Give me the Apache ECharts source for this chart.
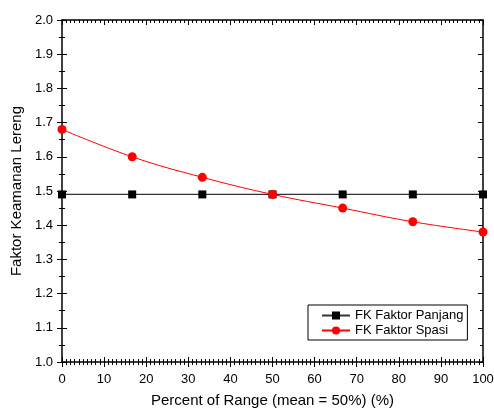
<!DOCTYPE html>
<html>
<head>
<meta charset="utf-8">
<script src="https://cdn.jsdelivr.net/npm/echarts@6/dist/echarts.min.js"></script>
<style>
  html, body { margin: 0; padding: 0; background: #fff; }
  #chart { width: 494px; height: 410px; }
</style>
</head>
<body>
<div id="chart"></div>
<script>
const xValues = [0, 16.67, 33.33, 50, 66.67, 83.33, 100]
const panjang = [1.49, 1.49, 1.49, 1.49, 1.49, 1.49, 1.49]
const spasi = [1.68, 1.60, 1.54, 1.49, 1.45, 1.41, 1.38]

const FONT = '"Liberation Sans", Arial, sans-serif'

const chart = echarts.init(document.getElementById('chart'), null, { renderer: 'canvas' })

function xAxisDef(pos, inside, showLabel, showLine) {
  return {
    type: 'value', position: pos, min: 0, max: 100, interval: 10,
    axisLine: { show: showLine, onZero: false, lineStyle: { color: '#000', width: 1.5 } },
    axisTick: { show: true, inside: inside, length: 5, lineStyle: { color: '#000', width: 1 } },
    minorTick: { show: true, splitNumber: 10, length: 3, lineStyle: { color: '#000', width: 1 } },
    axisLabel: { show: showLabel, color: '#000', fontFamily: FONT, fontSize: 13, margin: 11 },
    splitLine: { show: false },
    name: showLabel ? 'Percent of Range (mean = 50%) (%)' : '',
    nameLocation: 'middle', nameGap: 31,
    nameTextStyle: { color: '#000', fontFamily: FONT, fontSize: 15 }
  }
}

function yAxisDef(pos, inside, showLabel, showLine) {
  return {
    type: 'value', position: pos, min: 1.0, max: 2.0, interval: 0.1,
    axisLine: { show: showLine, onZero: false, lineStyle: { color: '#000', width: 1.5 } },
    axisTick: { show: true, inside: inside, length: 5, lineStyle: { color: '#000', width: 1 } },
    minorTick: { show: true, splitNumber: 2, length: 3, lineStyle: { color: '#000', width: 1 } },
    axisLabel: { show: showLabel, color: '#000', fontFamily: FONT, fontSize: 13, margin: 9,
      formatter: v => v.toFixed(1) },
    splitLine: { show: false },
    name: showLabel ? 'Faktor Keamanan Lereng' : '',
    nameLocation: 'middle', nameGap: 37,
    nameTextStyle: { color: '#000', fontFamily: FONT, fontSize: 15 }
  }
}

const option = {
  backgroundColor: '#fff',
  animation: false,
  grid: { left: 62, top: 20, width: 421, height: 342, containLabel: false, outerBoundsMode: 'none' },
  xAxis: [
    xAxisDef('bottom', true, true, true),
    xAxisDef('bottom', false, false, false),
    xAxisDef('top', true, false, true)
  ],
  yAxis: [
    yAxisDef('left', true, true, true),
    yAxisDef('left', false, false, false),
    yAxisDef('right', true, false, true)
  ],
  legend: {
    orient: 'vertical',
    left: 308, top: 305,
    padding: [4, 4, 3, 13],
    itemGap: 2,
    itemWidth: 28, itemHeight: 10,
    borderColor: '#000', borderWidth: 1,
    backgroundColor: '#fff',
    textStyle: { color: '#000', fontFamily: FONT, fontSize: 13 },
    data: ['FK Faktor Panjang', 'FK Faktor Spasi']
  },
  series: [
    {
      name: 'FK Faktor Panjang', type: 'line',
      data: xValues.map((x, i) => [x, panjang[i]]),
      symbol: 'rect', symbolSize: 8,
      lineStyle: { color: '#333', width: 1.2 },
      itemStyle: { color: '#000' },
      z: 3
    },
    {
      name: 'FK Faktor Spasi', type: 'line',
      data: xValues.map((x, i) => [x, spasi[i]]),
      symbol: 'circle', symbolSize: 9,
      smooth: 0.4,
      lineStyle: { color: '#ff0000', width: 1 },
      itemStyle: { color: '#ff0000' },
      z: 4
    }
  ]
}

chart.setOption(option)
</script>
</body>
</html>
